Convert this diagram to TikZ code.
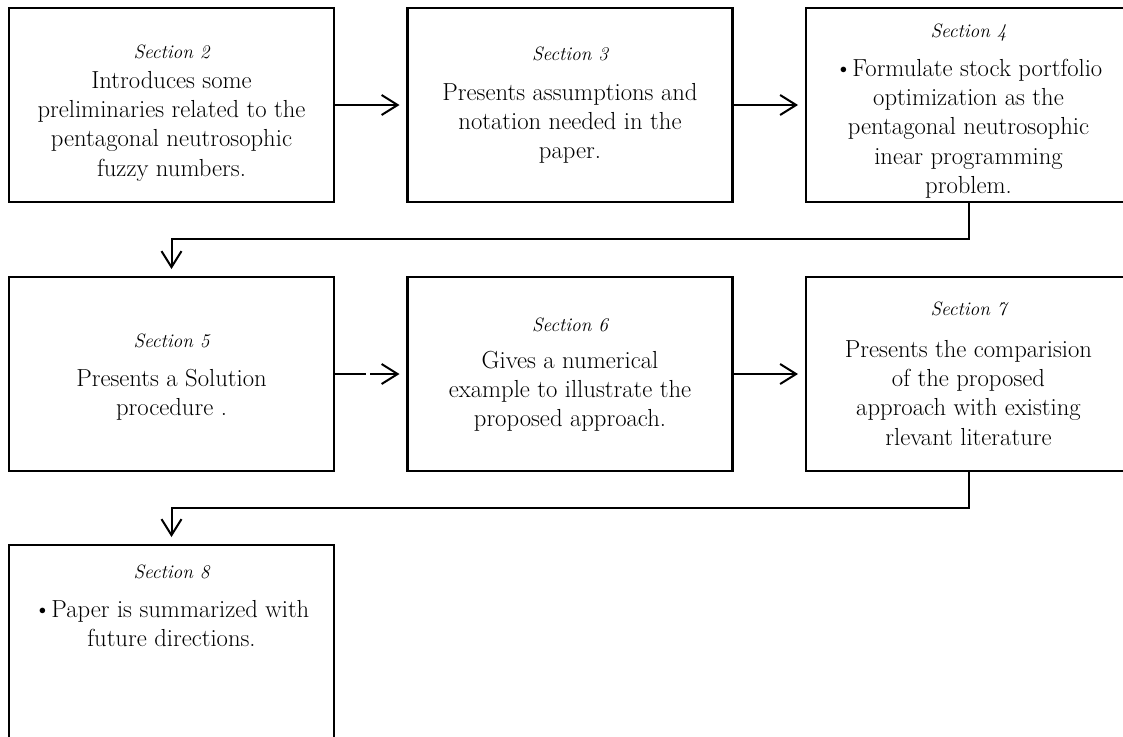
\documentclass[tikz,border=0pt]{standalone}
\usepackage{fontspec}
\usetikzlibrary{arrows.meta}
\tikzset{
  secbox/.style={draw, line width=1.8pt, inner sep=0pt, outer sep=0pt,
    minimum width=243.75pt, minimum height=145.5pt},
  seclabel/.style={anchor=base, inner sep=0pt, font=\fontsize{14.5}{16}\selectfont\itshape},
  body/.style={anchor=north, inner sep=0pt, align=center, font=\fontsize{18.5}{22}\selectfont},
  conn/.style={line width=1.5pt, -{Straight Barb[length=12pt,width=15pt,line width=1.5pt]}, shorten >=6pt}
}
\begin{document}
\begin{tikzpicture}[x=0.75pt, y=-0.75pt]
\clip (0,0) rectangle (1123,736);
% boxes
\node[secbox] (b2s) at (171.5,105) {};
\node[secbox] (b3s) at (570,105) {};
\node[secbox] (b4s) at (968.5,105) {};
\node[secbox] (b5s) at (171.5,374) {};
\node[secbox] (b6s) at (570,374) {};
\node[secbox] (b7s) at (968.5,374) {};
\node[secbox] (b8s) at (171.5,642) {};
% texts
\node[seclabel] (l2) at (171.5,58) {Section 2};
\node[body] (t2) at (171.5,67.5) {\strut Introduces some\\preliminaries related to the\\pentagonal neutrosophic\\fuzzy numbers.};
\node[seclabel] (l3) at (570,60) {Section 3};
\node[body] (t3) at (570,79.5) {\strut Presents assumptions and\\notation needed in the\\paper.};
\node[seclabel] (l4) at (968.5,37) {Section 4};
\node[body] (t4) at (968.5,55.5) {\strut\textbullet Formulate stock portfolio\\optimization as the\\pentagonal neutrosophic\\inear programming\\problem.};
\node[seclabel] (l5) at (171.5,347) {Section 5};
\node[body] (t5) at (171.5,365.5) {\strut Presents a Solution\\procedure .};
\node[seclabel] (l6) at (570,331) {Section 6};
\node[body] (t6) at (570,347.5) {\strut Gives a numerical\\example to illustrate the\\proposed approach.};
\node[seclabel] (l7) at (968.5,315) {Section 7};
\node[body] (t7) at (968.5,336.5) {\strut Presents the comparision\\of the proposed\\approach with existing\\rlevant literature};
\node[seclabel] (l8) at (171.5,578) {Section 8};
\node[body] (t8) at (171.5,596.5) {\strut\textbullet Paper is summarized with\\future directions.};
% connectors
\draw[conn] (b2s.east) -- (b3s.west);
\draw[conn] (b3s.east) -- (b4s.west);
\draw[conn] (b4s.south) -- ++(0,37) -| (b5s.north);
\draw[conn, dash pattern=on 24pt off 3pt on 80pt] (b5s.east) -- (b6s.west);
\draw[conn] (b6s.east) -- (b7s.west);
\draw[conn] (b7s.south) -- ++(0,37) -| (b8s.north);
\end{tikzpicture}
\end{document}
